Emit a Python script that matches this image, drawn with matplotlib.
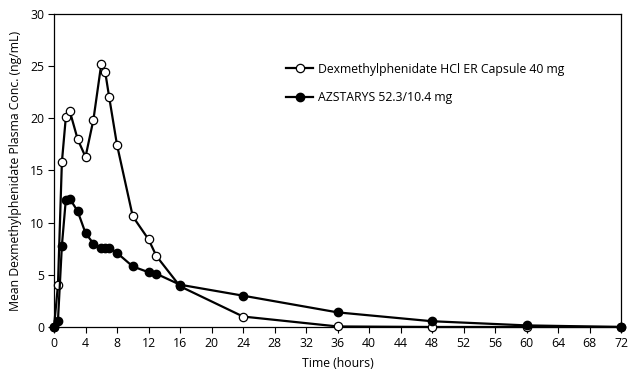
import matplotlib
matplotlib.use("Agg")
import matplotlib.pyplot as plt

# sampling times (hours)
time_h = [0, 0.5, 1, 1.5, 2, 3, 4, 5, 6, 6.5, 7, 8, 10, 12, 13, 16, 24, 36, 48, 60, 72]

# Dexmethylphenidate HCl ER Capsule 40 mg (open circles)
dex_er = [0, 4.0, 15.8, 20.1, 20.7, 18.0, 16.3, 19.85, 25.2, 24.45, 22.05, 17.45,
          10.6, 8.4, 6.8, 3.9, 1.0, 0.05, 0.0, 0.0, 0.0]

# AZSTARYS 52.3/10.4 mg (filled circles)
azstarys = [0, 0.6, 7.8, 12.2, 12.3, 11.1, 9.0, 8.0, 7.6, 7.6, 7.6, 7.1,
            5.8, 5.25, 5.1, 4.05, 3.0, 1.4, 0.55, 0.15, 0.0]

x_ticks = list(range(0, 73, 4))
y_ticks = [0, 5, 10, 15, 20, 25, 30]

plt.rcParams['font.family'] = ['Open Sans', 'DejaVu Sans']

fig = plt.figure(figsize=(6.43, 3.78), dpi=100)
ax = fig.add_axes([0.084, 0.135, 0.8818, 0.828])

ax.plot(time_h, dex_er, color='black', linewidth=1.6, marker='o', markersize=6,
        markerfacecolor='white', markeredgecolor='black', markeredgewidth=0.9,
        label='Dexmethylphenidate HCl ER Capsule 40 mg', clip_on=False, zorder=3)
ax.plot(time_h, azstarys, color='black', linewidth=1.6, marker='o', markersize=6,
        markerfacecolor='black', markeredgecolor='black',
        label='AZSTARYS 52.3/10.4 mg', clip_on=False, zorder=4)

ax.set_xlim(0, 72)
ax.set_ylim(0, 30)
ax.set_xticks(x_ticks)
ax.set_yticks(y_ticks)
ax.tick_params(direction='out', length=4, width=0.8, labelsize=8.8, pad=3)
for s in ax.spines.values():
    s.set_linewidth(0.9)

ax.set_xlabel('Time (hours)', fontsize=8.8, labelpad=5)
ax.set_ylabel('Mean Dexmethylphenidate Plasma Conc. (ng/mL)', fontsize=8.8, labelpad=6)

ax.legend(loc='upper left', bbox_to_anchor=(0.39, 0.88), frameon=False,
          fontsize=8.8, handlelength=2.2, labelspacing=1.25, handletextpad=0.4)

fig.savefig('out.png', dpi=100)
